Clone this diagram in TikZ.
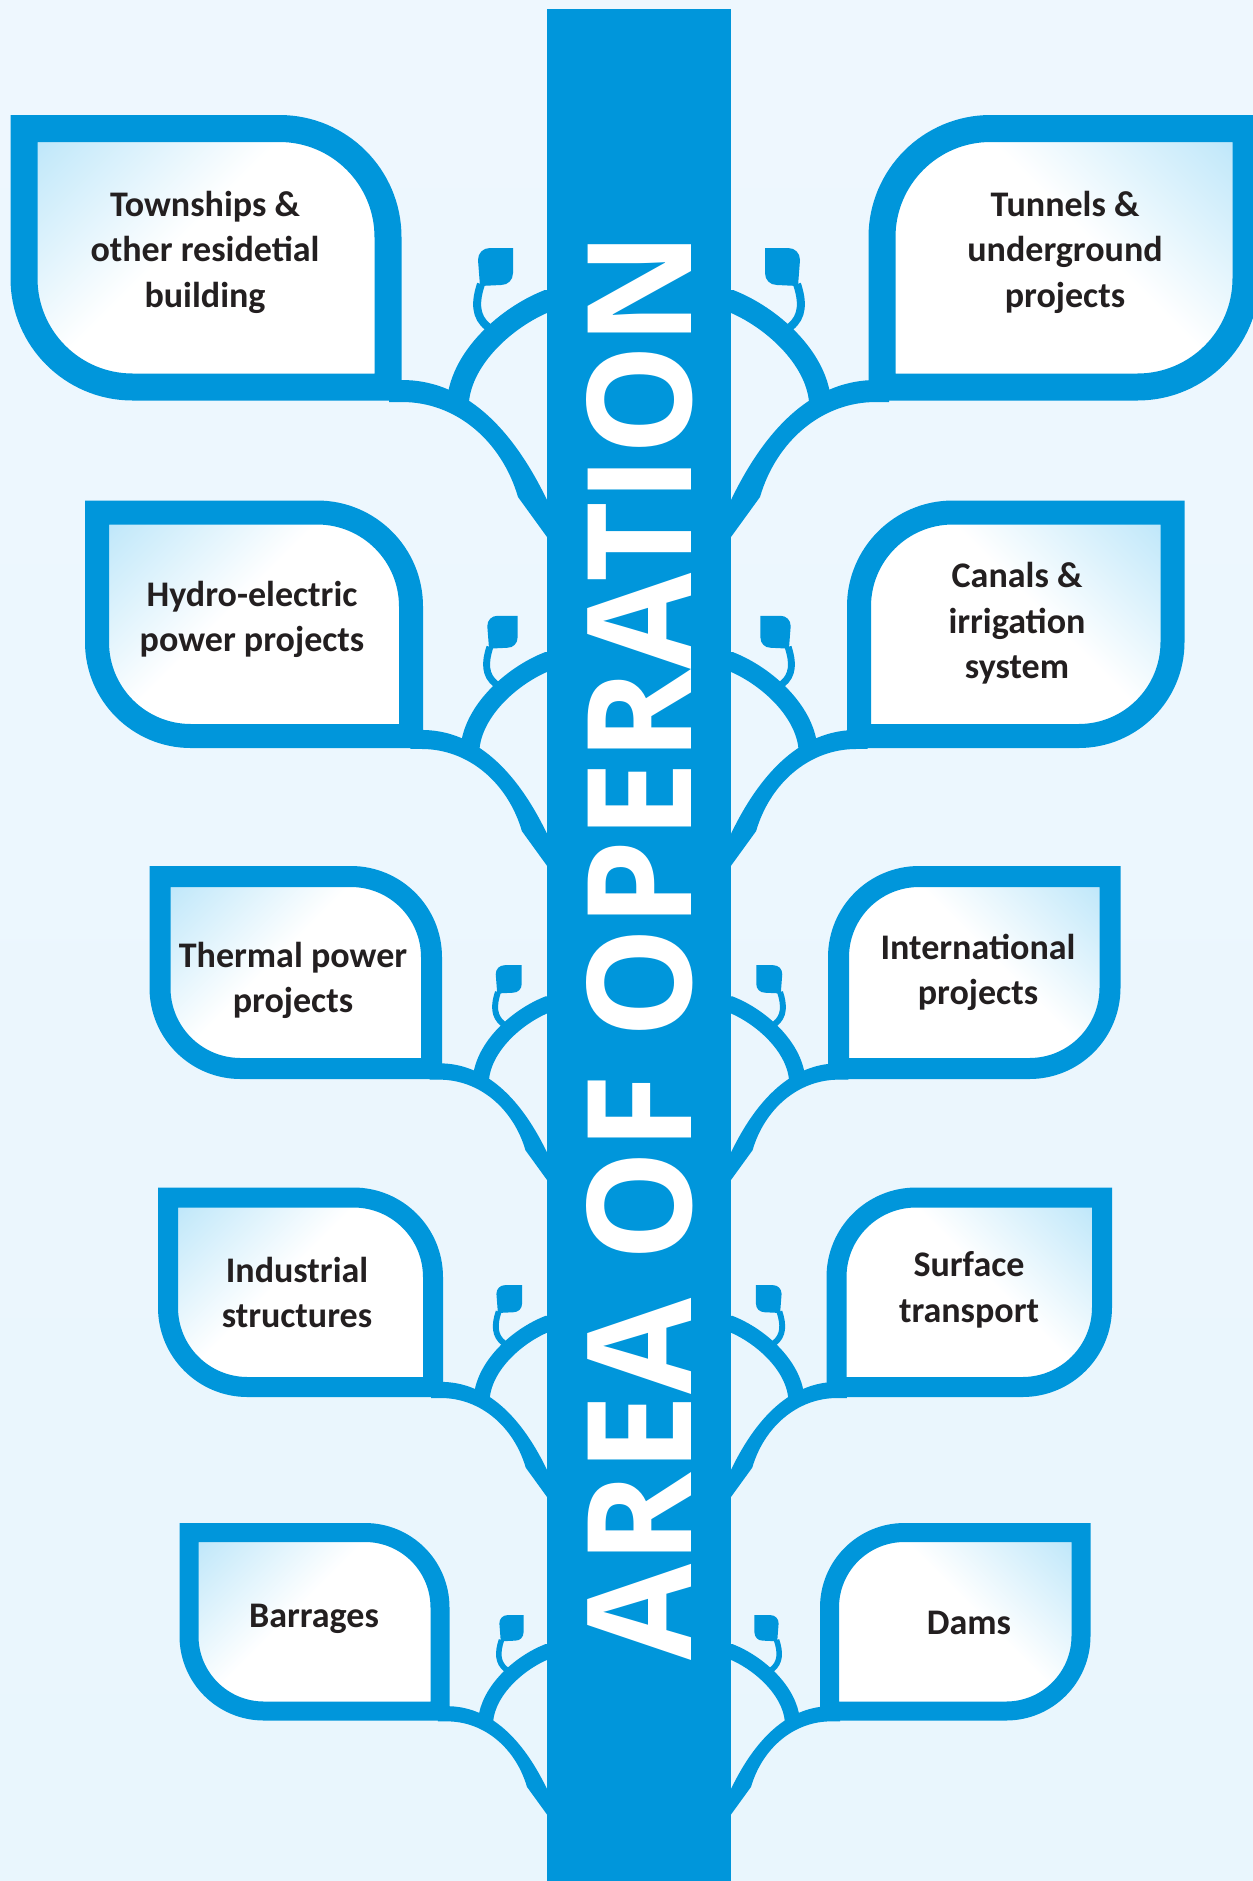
\documentclass[tikz,border=0pt]{standalone}
\usepackage{fontspec}
\usepackage{graphicx}
\newfontfamily\leaffont{Carlito}
\newfontfamily\titlefont{Open Sans}

\definecolor{treeblue}{RGB}{0,150,219}
\definecolor{leafblue}{RGB}{140,212,245}
\definecolor{bgtop}{RGB}{238,247,254}
\definecolor{bgmid}{RGB}{248,252,255}
\definecolor{bgbot}{RGB}{233,246,253}
\definecolor{ink}{RGB}{35,31,32}
\pgfdeclareverticalshading{leafshade}{100bp}{color(0bp)=(white); color(55bp)=(white); color(80bp)=(leafblue!50!white); color(100bp)=(leafblue)}

\tikzstyle{leaf} = [draw=treeblue, shading=leafshade]
\tikzstyle{leaftext} = [text=ink, align=center, inner sep=0pt, font=\leaffont\bfseries\fontsize{20.5}{25.9}\selectfont]
\tikzstyle{title} = [text=white, rotate=90, inner sep=0pt, font=\titlefont\bfseries]

% leaf on the left: x1 y1 x2 y2 border
\newcommand{\leftleaf}[5]{%
  \pgfmathsetmacro{\rr}{0.42*(#4-#2)}\pgfmathsetmacro{\kk}{0.4477*\rr}%
  \shadedraw[leaf, line width=#5*0.2mm, shading angle=45]
    (#1,#2) -- ({#3-\rr},#2) .. controls ({#3-\kk},#2) and (#3,{#2+\kk}) .. (#3,{#2+\rr})
    -- (#3,#4) -- ({#1+\rr},#4) .. controls ({#1+\kk},#4) and (#1,{#4-\kk}) .. (#1,{#4-\rr}) -- cycle;}
% leaf on the right: x1 y1 x2 y2 border
\newcommand{\rightleaf}[5]{%
  \pgfmathsetmacro{\rr}{0.42*(#4-#2)}\pgfmathsetmacro{\kk}{0.4477*\rr}%
  \shadedraw[leaf, line width=#5*0.2mm, shading angle=-45]
    (#3,#2) -- ({#1+\rr},#2) .. controls ({#1+\kk},#2) and (#1,{#2+\kk}) .. (#1,{#2+\rr})
    -- (#1,#4) -- ({#3-\rr},#4) .. controls ({#3-\kk},#4) and (#3,{#4-\kk}) .. (#3,{#4-\rr}) -- cycle;}
% branch, arc and bud: origin x, origin y, scale, side (1 left, -1 right)
\newcommand{\branch}[4]{%
  \begin{scope}[shift={(#1,#2)}, xscale=#4*#3, yscale=#3]
    \fill[treeblue] (-158,-7) -- (-145,-7) .. controls (-90,-7) and (-40,30) .. (0,113) -- (12,113) -- (12,150) -- (0,150)
      -- (-29,110) .. controls (-45,55) and (-90,15) .. (-145,15) -- (-158,15) -- cycle;
    \draw[treeblue, line width=#3*4.4mm] (6,-86) -- (0,-86) .. controls (-40,-70) and (-85,-30) .. (-89,14);
    \draw[treeblue, line width=#3*1.6mm] (-66,-103) .. controls (-72,-85) and (-72,-70) .. (-59,-60);
    \fill[treeblue] (-34,-139) -- (-57,-139) .. controls (-64,-139) and (-69,-134) .. (-69,-127) -- (-67,-101)
      -- (-46,-102) .. controls (-39,-102) and (-34,-107) .. (-34,-114) -- cycle;
  \end{scope}}

\begin{document}
\begin{tikzpicture}[x=0.2mm, y=-0.2mm]
    \useasboundingbox (0,0) rectangle (1253,1881);
    \shade[top color=bgtop, middle color=bgmid, bottom color=bgbot] (0,0) rectangle (1253,1881);
    % branches
    \foreach \yy/\ss in {387/1, 736/0.865, 1068.5/0.743, 1387/0.733, 1711/0.69} {
        \branch{547}{\yy}{\ss}{1}
        \branch{731}{\yy}{\ss}{-1}
    }
    % trunk
    \fill[treeblue] (547,9) rectangle (731,1881);
    \node[title] (heading) at (639.5,946) {\resizebox{285.6mm}{21mm}{AREA OF OPERATION}};
    % leaves
    \leftleaf{24}{128.5}{388}{387}{27}
    \leftleaf{97}{512.5}{411}{736}{24}
    \leftleaf{160}{876.5}{431.5}{1068.5}{21}
    \leftleaf{168}{1197.5}{433}{1387}{20}
    \leftleaf{189}{1532.5}{440}{1711}{19}
    \rightleaf{882}{128.5}{1246}{387}{27}
    \rightleaf{859}{512.5}{1172.5}{736}{24}
    \rightleaf{838.5}{876.5}{1110}{1068.5}{21}
    \rightleaf{836.5}{1197.5}{1102}{1387}{20}
    \rightleaf{829.5}{1532.5}{1081}{1711}{19}
    \node[leaftext] (l1) at (205,252) {Townships \&\\other residetial\\building};
    \node[leaftext] (r1) at (1065,252) {Tunnels \&\\underground\\projects};
    \node[leaftext] (l2) at (252,619.5) {Hydro-electric\\power projects};
    \node[leaftext] (r2) at (1017,623.5) {Canals \&\\irrigation\\system};
    \node[leaftext] (l3) at (293,980.5) {Thermal power\\projects};
    \node[leaftext] (r3) at (978,972.5) {International\\projects};
    \node[leaftext] (l4) at (297,1292.5) {Industrial\\structures};
    \node[leaftext] (r4) at (969,1290) {Surface\\transport};
    \node[leaftext] (l5) at (314,1619) {Barrages};
    \node[leaftext] (r5) at (969,1623) {Dams};
\end{tikzpicture}
\end{document}
